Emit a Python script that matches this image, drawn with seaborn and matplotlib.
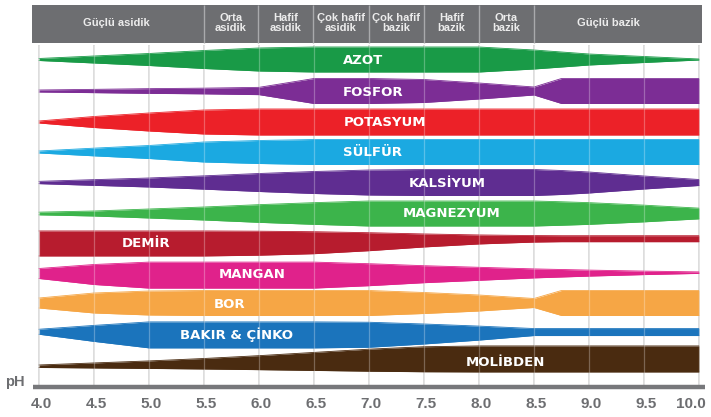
import matplotlib
matplotlib.use("Agg")
import numpy as np
import pandas as pd
import matplotlib.pyplot as plt
from matplotlib.patches import Rectangle
import seaborn as sns

# ---------------- data ----------------
PH = [4.0, 4.5, 5.0, 5.5, 6.0, 6.5, 7.0, 7.5, 8.0, 8.5, 8.75, 9.0, 9.5, 10.0]
NUTRIENTS = ["AZOT", "FOSFOR", "POTASYUM", "SÜLFÜR", "KALSİYUM", "MAGNEZYUM",
             "DEMİR", "MANGAN", "BOR", "BAKIR & ÇİNKO", "MOLİBDEN"]
# relative availability (band thickness) at each pH
AZOT      = [2, 7, 12, 18, 23, 25, 25, 25, 25, 19, 15, 11, 6, 1]
FOSFOR    = [2, 3.3, 4.7, 5.7, 7.3, 25, 25, 23, 16, 8, 25, 25, 25, 25]
POTASYUM  = [2, 11, 18, 24, 26, 26, 26, 26, 26, 26, 26, 26, 26, 26]
SULFUR    = [2, 7.7, 13, 20, 23, 25, 25, 25, 25, 25, 25, 25, 25, 25]
KALSIYUM  = [2.3, 5.7, 9, 13.3, 18, 22, 25, 26, 26, 26, 24, 21, 13, 6]
MAGNEZYUM = [2.7, 5, 9, 13, 17.7, 21.7, 25, 25, 25, 25, 23.5, 21.7, 16.7, 10.7]
DEMIR     = [25, 25, 25, 25, 24, 22, 18, 13, 9, 6.5, 6, 6, 6, 6]
MANGAN    = [10, 20, 26, 26, 26, 26, 22, 17, 13, 9, 7.5, 6, 3.5, 1.5]
BOR       = [10, 20, 24, 25, 25, 25, 25, 21, 16, 9, 25, 25, 25, 25]
BAKIR     = [5, 16, 26, 26, 26, 26, 25, 20, 14, 7, 7, 7, 7, 7]
MOLIBDEN  = [2.5, 5, 7.5, 10.5, 14, 18, 22, 25, 26, 26, 26, 26, 26, 26]
VALUES = [AZOT, FOSFOR, POTASYUM, SULFUR, KALSIYUM, MAGNEZYUM,
          DEMIR, MANGAN, BOR, BAKIR, MOLIBDEN]

HEADER_LABELS = ["Güçlü asidik", "Orta\nasidik", "Hafif\nasidik", "Çok hafif\nasidik",
                 "Çok hafif\nbazik", "Hafif\nbazik", "Orta\nbazik", "Güçlü bazik"]
TICKS = [4.0, 4.5, 5.0, 5.5, 6.0, 6.5, 7.0, 7.5, 8.0, 8.5, 9.0, 9.5, 10.0]
TICK_LABELS = ["4.0", "4.5", "5.0", "5.5", "6.0", "6.5", "7.0", "7.5", "8.0",
               "8.5", "9.0", "9.5", "10.0"]

# ---------------- style ----------------
COLORS = ["#199a47", "#7c2d95", "#ec2128", "#1ba9e1", "#5f2d91", "#3cb44b",
          "#b71c2e", "#e0228b", "#f6a645", "#1b74bc", "#4a2b10"]
BASE_Y = [59.5, 91, 122, 152, 182.5, 213.5, 237.2, 272.5, 303, 331, 367]
ANCHOR = [0.5, 0.5, 0.5, 0.5, 0.5, 0.5, 0.25, 0.4, 0.5, 0.35, 0.81]
LABEL_PX = [363, 373, 385, 373, 447, 452, 146, 252, 230, 236, 505]
LABEL_Y = [60, 92, 122, 153, 183, 213, 243, 274, 304, 335, 363]
HEADER_EDGES_PX = [32, 204, 258, 313, 369, 424, 479, 534, 702]

W, H = 711, 417


def px2ph(px):
    return 4.0 + (px - 39.0) / 110.0


sns.set_theme(style="white")
plt.rcParams['font.family'] = ['DejaVu Sans']

fig = plt.figure(figsize=(W / 100, H / 100), dpi=100)
ax = fig.add_axes([0, 0, 1, 1])

# long-form table
rows = []
for name, vals, base, a in zip(NUTRIENTS, VALUES, BASE_Y, ANCHOR):
    for ph, v in zip(PH, vals):
        rows.append({"nutrient": name, "pH": ph, "width": v,
                     "top": base - a * v, "bottom": base + (1 - a) * v})
df = pd.DataFrame(rows)
palette = dict(zip(NUTRIENTS, COLORS))

# grid lines (under bands)
ax.vlines(TICKS, 45, 386, color="#d2d2d2", lw=1.1, zorder=0)

for name in NUTRIENTS:
    d = df[df.nutrient == name]
    ax.fill_between(d["pH"], d["top"], d["bottom"], color=palette[name],
                    lw=0, zorder=1)
sns.lineplot(data=df, x="pH", y="top", hue="nutrient", palette=palette,
             legend=False, lw=0.6, ax=ax, zorder=2, estimator=None)
sns.lineplot(data=df, x="pH", y="bottom", hue="nutrient", palette=palette,
             legend=False, lw=0.6, ax=ax, zorder=2, estimator=None)
ax.set_xlim(px2ph(0), px2ph(W))
ax.set_ylim(H, 0)
ax.axis('off')

# faint grid over bands
ax.vlines(TICKS, 45, 386, color="white", alpha=0.28, lw=0.9, zorder=3)

# band labels
for name, lx, ly in zip(NUTRIENTS, LABEL_PX, LABEL_Y):
    ax.text(px2ph(lx), ly, name, color="white", fontsize=9.5, fontweight="bold",
            ha="center", va="center", zorder=5)

# header
x0, x1 = px2ph(HEADER_EDGES_PX[0]), px2ph(HEADER_EDGES_PX[-1])
ax.add_patch(Rectangle((x0, 5), x1 - x0, 38, facecolor="#6d6e71",
                       edgecolor="none", zorder=6))
ax.vlines([px2ph(p) for p in HEADER_EDGES_PX[1:-1]], 5, 43, color="#a9aaac",
          lw=1.0, zorder=7)
hfont = ['Liberation Sans', 'DejaVu Sans']
for i, lab in enumerate(HEADER_LABELS):
    cx = px2ph((HEADER_EDGES_PX[i] + HEADER_EDGES_PX[i + 1]) / 2)
    if i == len(HEADER_LABELS) - 1:
        cx = px2ph(608)
    if i == 0:
        cx = px2ph(116)
    ax.text(cx, 23, lab, color="#ececec", fontsize=8, family=hfont,
            fontweight="bold", ha="center", va="center", linespacing=1.1,
            zorder=8)

# pH axis
ax.plot([px2ph(33), px2ph(705)], [387, 387], color="#77787b", lw=3.2,
        solid_capstyle="butt", zorder=4)
ax.text(px2ph(15), 382, "pH", color="#6d6e71", fontsize=10.5, family=hfont,
        fontweight="bold", ha="center", va="center")
for t, lab in zip(TICKS, TICK_LABELS):
    xx = t + 0.02 if t < 10 else t - 0.07
    ax.text(xx, 404, lab, color="#6d6e71", fontsize=11, family=hfont,
            fontweight="bold", ha="center", va="center")

fig.savefig("out.png", dpi=100, facecolor="white")
